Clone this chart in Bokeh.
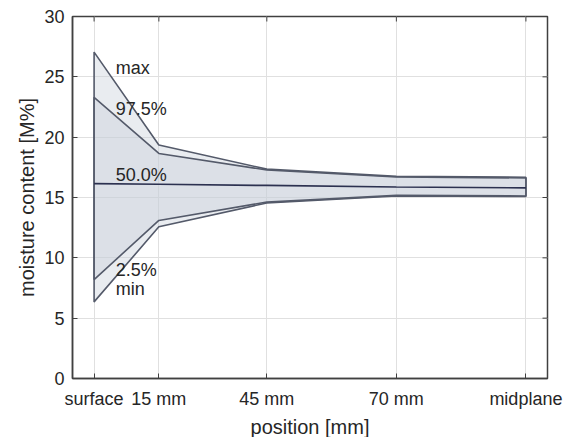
from bokeh.plotting import figure
from bokeh.models import FixedTicker, Range1d
from bokeh.embed import file_html
from bokeh.resources import INLINE
from bokeh.core.properties import value

# data
categories = ["surface", "15 mm", "45 mm", "70 mm", "midplane"]
x_pos = [0, 15, 40, 70, 100]
p_max = [27.05, 19.35, 17.35, 16.75, 16.68]
p_975 = [23.3, 18.65, 17.28, 16.70, 16.62]
p_500 = [16.15, 16.10, 16.00, 15.87, 15.80]
p_025 = [8.2, 13.1, 14.62, 15.18, 15.13]
p_min = [6.35, 12.57, 14.55, 15.12, 15.08]
label_names = ["max", "97.5%", "50.0%", "2.5%", "min"]
label_y = [25.7, 22.3, 16.85, 9.0, 7.4]
y_ticks = [0, 5, 10, 15, 20, 25, 30]

X0, X1, Y0, Y1 = -5, 105, 0, 30
FW, FH = 475, 362

FONT = "Liberation Sans"
TXT = "#262626"
AX = "#404040"

p = figure(frame_width=FW, frame_height=FH, output_backend="svg", toolbar_location=None,
           x_range=Range1d(X0, X1), y_range=Range1d(Y0, Y1),
           min_border_left=72, min_border_right=26, min_border_top=16, min_border_bottom=59)
p.background_fill_color = "white"
p.border_fill_color = "white"
p.outline_line_color = AX
p.outline_line_width = 1.5

p.xgrid.ticker = FixedTicker(ticks=x_pos)
p.grid.grid_line_color = "#e0e0e0"
p.grid.grid_line_width = 1

# fills
outer_x = x_pos + x_pos[::-1]
outer_y = p_max + p_min[::-1]
inner_x = x_pos + x_pos[::-1]
inner_y = p_975 + p_025[::-1]
p.patch(outer_x, outer_y, fill_color="#c8d0da", fill_alpha=0.4,
        line_color="#545a6a", line_width=1.6)
p.patch(inner_x, inner_y, fill_color="#c8d0da", fill_alpha=0.4,
        line_color="#545a6a", line_width=1.6)
p.line(x_pos, p_500, line_color="#2c3150", line_width=1.7)

# labels
p.text(x=[5] * len(label_names), y=label_y, text=label_names,
       text_font=value(FONT), text_font_size="18px", text_color=TXT,
       text_baseline="middle", text_align="left")

# inward ticks on top and right edges (box style)
tick_dy = 5 * (Y1 - Y0) / FH
tick_dx = 5 * (X1 - X0) / FW
p.segment(x0=x_pos, y0=[Y1] * len(x_pos), x1=x_pos, y1=[Y1 - tick_dy] * len(x_pos),
          line_color=AX, line_width=1)
p.segment(x0=[X1] * len(y_ticks), y0=y_ticks, x1=[X1 - tick_dx] * len(y_ticks), y1=y_ticks,
          line_color=AX, line_width=1)

# axes
p.xaxis.ticker = FixedTicker(ticks=x_pos)
p.xaxis.major_label_overrides = {x: c for x, c in zip(x_pos, categories)}
p.yaxis.ticker = FixedTicker(ticks=y_ticks)
for ax in [p.xaxis[0], p.yaxis[0]]:
    ax.major_tick_in = 5
    ax.major_tick_out = 0
    ax.minor_tick_line_color = None
    ax.axis_line_color = AX
    ax.axis_line_width = 1.5
    ax.major_tick_line_color = AX
    ax.major_label_text_font = FONT
    ax.major_label_text_font_size = "18px"
    ax.major_label_text_color = TXT
    ax.axis_label_text_font = FONT
    ax.axis_label_text_font_size = "20px"
    ax.axis_label_text_font_style = "normal"
    ax.axis_label_text_color = TXT
p.xaxis.axis_label = "position [mm]"
p.yaxis.axis_label = "moisture content [M%]"
p.xaxis.major_label_standoff = 10
p.xaxis.axis_label_standoff = 4
p.yaxis.major_label_standoff = 8
p.yaxis.axis_label_standoff = 3

open("out.html", "w").write(file_html(p, INLINE))
